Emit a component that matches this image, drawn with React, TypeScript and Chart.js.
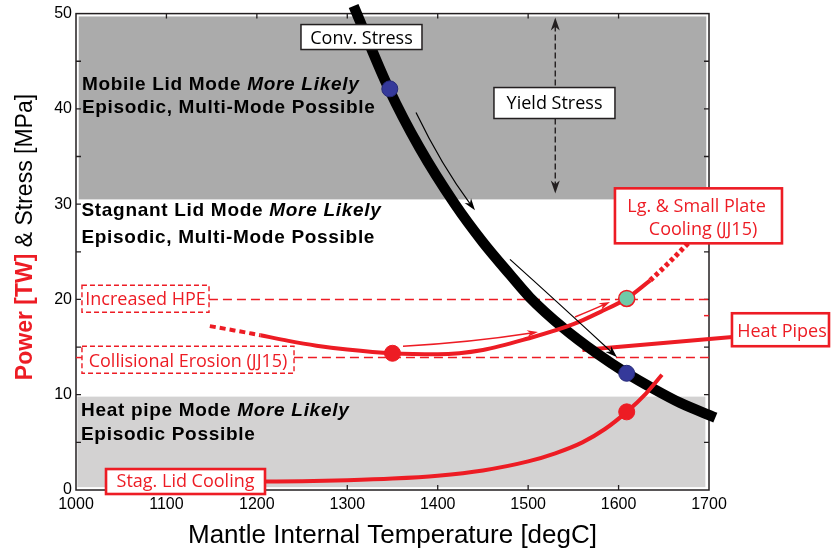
import React, { useEffect, useRef } from "react";
import { Chart, registerables } from "chart.js";

Chart.register(...registerables);

const RED = "#ed1c24";
const INK = "#231f20";

// Axis ranges / ticks
const xMin = 1000;
const xMax = 1700;
const yMin = 0;
const yMax = 50;
const xStep = 100;
const yStep = 10;
const yMinorStep = 5;

// Convective stress (black curve) [degC, MPa]
const convT = [1307, 1346, 1380, 1419, 1450, 1480, 1502, 1539, 1575, 1609, 1639, 1668, 1707];
const convMPa = [50.8, 42.1, 35.9, 30.0, 26.0, 22.6, 20.2, 17.0, 14.4, 12.25, 10.6, 9.15, 7.6];

// Stagnant lid cooling power [TW]
const stagT = [1209, 1250, 1300, 1350, 1400, 1450, 1500, 1530, 1560, 1585, 1609, 1630, 1648];
const stagTW = [0.88, 0.93, 1.03, 1.2, 1.5, 2.05, 3.0, 3.85, 5.0, 6.4, 8.2, 10.1, 12.1];

// Large & small plate cooling power [TW]
const plateDashT = [1148, 1175, 1204];
const plateDashTW = [17.2, 16.75, 16.25];
const plateT = [1204, 1235, 1266, 1300, 1350, 1400, 1450, 1500, 1550, 1580, 1609, 1635];
const plateTW = [16.25, 15.65, 15.15, 14.75, 14.35, 14.25, 14.7, 15.9, 17.4, 18.7, 20.1, 22.0];
const plateDotT = [1635, 1655, 1677];
const plateDotTW = [22.0, 23.8, 25.9];

// Heat pipes power [TW]
const heatPipeT = [1560, 1726];
const heatPipeTW = [14.7, 16.05];

// Reference levels
const hpeT = [1147, 1700];
const hpeTW = [20, 20];
const collLeftT = [1000, 1006.6];
const collRightT = [1241, 1702];
const collTW = [13.9, 13.9];

// Markers
const blueT = [1347, 1609];
const blueMPa = [42.1, 12.25];
const redDotT = [1350, 1609];
const redDotTW = [14.35, 8.2];
const greenT = [1609];
const greenTW = [20.1];

const pts = (xs: number[], ys: number[]) => xs.map((x, i) => ({ x, y: ys[i] }));

const SANS = '"Liberation Sans", Arial, Helvetica, sans-serif';
const LABEL = '"Open Sans", sans-serif';

function arrowHead(ctx: any, tx: number, ty: number, ang: number, len: number, hw: number, color: string) {
  ctx.save();
  ctx.translate(tx, ty);
  ctx.rotate(ang);
  ctx.beginPath();
  ctx.moveTo(0, 0);
  ctx.lineTo(-len, -hw);
  ctx.lineTo(-len * 0.7, 0);
  ctx.lineTo(-len, hw);
  ctx.closePath();
  ctx.fillStyle = color;
  ctx.fill();
  ctx.restore();
}

const annot = {
  id: "annot",
  beforeDatasetsDraw(chart: any) {
    const { ctx, chartArea: a } = chart;
    const X = (v: number) => chart.scales.x.getPixelForValue(v);
    const Y = (v: number) => chart.scales.y.getPixelForValue(v);
    ctx.save();
    // regime shading
    ctx.fillStyle = "#ababab";
    ctx.fillRect(X(1003), Y(49.7), X(1697) - X(1003), Y(30.5) - Y(49.7));
    ctx.fillStyle = "#d3d2d2";
    ctx.fillRect(X(1001.5), Y(9.8), X(1696) - X(1001.5), Y(0.3) - Y(9.8));

    // frame
    ctx.strokeStyle = INK;
    ctx.lineWidth = 1.5;
    ctx.strokeRect(a.left, a.top, a.right - a.left, a.bottom - a.top);
    ctx.lineWidth = 1.3;
    ctx.beginPath();
    for (let v = xMin + xStep; v < xMax; v += xStep) {
      ctx.moveTo(X(v), a.bottom);
      ctx.lineTo(X(v), a.bottom - 5);
      ctx.moveTo(X(v), a.top);
      ctx.lineTo(X(v), a.top + 5);
    }
    for (let v = yMin + yMinorStep; v < yMax; v += yMinorStep) {
      ctx.moveTo(a.left, Y(v));
      ctx.lineTo(a.left + 5, Y(v));
      ctx.moveTo(a.right, Y(v));
      ctx.lineTo(a.right - 5, Y(v));
    }
    ctx.stroke();
    ctx.strokeStyle = RED;
    ctx.lineWidth = 1.5;
    ctx.beginPath();
    ctx.moveTo(a.right - 5, Y(18.3));
    ctx.lineTo(a.right, Y(18.3));
    ctx.stroke();

    // regime texts
    const B = `bold 19px ${SANS}`;
    const BI = `italic bold 19px ${SANS}`;
    ctx.fillStyle = "#000";
    ctx.textAlign = "left";
    ctx.textBaseline = "alphabetic";
    (ctx as any).letterSpacing = "0.7px";
    const runs = (x: number, y: number, parts: [string, string][]) => {
      let cx = x;
      for (const [f, t] of parts) {
        ctx.font = f;
        ctx.fillText(t, cx, y);
        cx += ctx.measureText(t).width;
      }
    };
    runs(X(1006.5), Y(41.93), [[B, "Mobile Lid Mode "], [BI, "More Likely"]]);
    runs(X(1006.5), Y(39.57), [[B, "Episodic, Multi-Mode Possible"]]);
    runs(X(1006), Y(28.72), [[B, "Stagnant Lid Mode "], [BI, "More Likely"]]);
    runs(X(1006), Y(25.94), [[B, "Episodic, Multi-Mode Possible"]]);
    runs(X(1005.5), Y(7.81), [[B, "Heat pipe Mode "], [BI, "More Likely"]]);
    runs(X(1005.5), Y(5.24), [[B, "Episodic Possible"]]);
    (ctx as any).letterSpacing = "0px";
    ctx.restore();
  },
  afterDatasetsDraw(chart: any) {
    const { ctx } = chart;
    const X = (v: number) => chart.scales.x.getPixelForValue(v);
    const Y = (v: number) => chart.scales.y.getPixelForValue(v);
    ctx.save();

    // curved arrows
    const curved = (s: number[], c: number[], t: number[], color: string, lw: number, len: number, hw: number) => {
      const sx = X(s[0]), sy = Y(s[1]), cx = X(c[0]), cy = Y(c[1]), tx = X(t[0]), ty = Y(t[1]);
      const ang = Math.atan2(ty - cy, tx - cx);
      ctx.strokeStyle = color;
      ctx.lineWidth = lw;
      ctx.setLineDash([]);
      ctx.beginPath();
      ctx.moveTo(sx, sy);
      ctx.quadraticCurveTo(cx, cy, tx - Math.cos(ang) * len * 0.6, ty - Math.sin(ang) * len * 0.6);
      ctx.stroke();
      arrowHead(ctx, tx, ty, ang, len, hw, color);
    };
    curved([1376, 39.62], [1404, 34.1], [1441.2, 29.35], "#000", 1.2, 12, 4);
    curved([1479.9, 24.21], [1534, 19.6], [1598.3, 13.94], "#000", 1.2, 12, 4);
    curved([1361.6, 15.09], [1437, 15.5], [1510.9, 16.59], RED, 1.6, 11, 3.5);
    curved([1551.8, 18.16], [1571, 18.9], [1590.5, 19.74], RED, 1.6, 11, 3.5);

    // yield stress double arrow
    const yx = X(1530);
    ctx.strokeStyle = INK;
    ctx.lineWidth = 1.4;
    ctx.setLineDash([6, 3]);
    ctx.beginPath();
    ctx.moveTo(yx, Y(49.58) + 8);
    ctx.lineTo(yx, Y(42.24));
    ctx.moveTo(yx, Y(38.99));
    ctx.lineTo(yx, Y(31.13) - 8);
    ctx.stroke();
    ctx.setLineDash([]);
    arrowHead(ctx, yx, Y(49.58), -Math.PI / 2, 13, 4.5, INK);
    arrowHead(ctx, yx, Y(31.13), Math.PI / 2, 13, 4.5, INK);

    // boxes
    const box = (x0: number, y0: number, x1: number, y1: number, color: string, lw: number, dash: number[]) => {
      const px0 = X(x0), py0 = Y(y0), px1 = X(x1), py1 = Y(y1);
      ctx.fillStyle = "#fff";
      ctx.fillRect(px0, py0, px1 - px0, py1 - py0);
      ctx.strokeStyle = color;
      ctx.lineWidth = lw;
      ctx.setLineDash(dash);
      ctx.strokeRect(px0, py0, px1 - px0, py1 - py0);
      ctx.setLineDash([]);
    };
    const label = (txt: string, x: number, y: number, color: string) => {
      ctx.font = `18px ${LABEL}`;
      ctx.fillStyle = color;
      ctx.textAlign = "center";
      ctx.textBaseline = "alphabetic";
      ctx.fillText(txt, X(x), Y(y));
    };
    box(1248.8, 48.85, 1382.6, 46.23, INK, 1.5, []);
    label("Conv. Stress", 1315.7, 46.82, "#000");
    box(1462.2, 42.24, 1596.0, 38.99, INK, 1.5, []);
    label("Yield Stress", 1529.2, 39.94, "#000");
    box(1596.0, 31.66, 1780.7, 25.89, RED, 2.6, []);
    label("Lg. & Small Plate", 1686.2, 29.17, RED);
    label("Cooling (JJ15)", 1693.4, 26.73, RED);
    box(1725.4, 18.55, 1832.7, 15.09, RED, 2.6, []);
    label("Heat Pipes", 1780.7, 16.07, RED);
    box(1033.2, 2.2, 1209.0, -0.42, RED, 2.6, []);
    label("Stag. Lid Cooling", 1121.1, 0.31, RED);
    box(1006.6, 21.49, 1147.1, 18.66, RED, 1.4, [5, 3]);
    label("Increased HPE", 1076.9, 19.39, RED);
    box(1006.6, 15.09, 1241.1, 12.26, RED, 1.4, [5, 3]);
    label("Collisional Erosion (JJ15)", 1123.9, 12.89, RED);

    ctx.restore();
  },
  afterDraw(chart: any) {
    const { ctx, chartArea: a } = chart;
    ctx.save();
    // x title
    ctx.font = `26px ${SANS}`;
    ctx.fillStyle = "#000";
    ctx.textAlign = "center";
    ctx.textBaseline = "alphabetic";
    ctx.fillText("Mantle Internal Temperature [degC]", (a.left + a.right) / 2, a.bottom + 53);
    // y title
    ctx.translate(32, 237);
    ctx.rotate(-Math.PI / 2);
    ctx.textAlign = "left";
    const f1 = `bold 23px ${SANS}`;
    const f2 = `23px ${SANS}`;
    const t1 = "Power [TW]";
    const t2 = " & Stress [MPa]";
    ctx.font = f1;
    const w1 = ctx.measureText(t1).width;
    ctx.font = f2;
    const w2 = ctx.measureText(t2).width;
    const x0 = -(w1 + w2) / 2;
    ctx.font = f1;
    ctx.fillStyle = RED;
    ctx.fillText(t1, x0, 0);
    ctx.font = f2;
    ctx.fillStyle = "#000";
    ctx.fillText(t2, x0 + w1, 0);
    ctx.restore();
  },
};

export default function App() {
  const ref = useRef<HTMLCanvasElement>(null);
  useEffect(() => {
    const lineBase = { pointRadius: 0, fill: false, cubicInterpolationMode: "monotone" as const, borderCapStyle: "butt" as const };
    const chart = new Chart(ref.current!, {
      type: "line",
      data: {
        datasets: [
          { data: pts(blueT, blueMPa), showLine: false, pointRadius: 8, pointBackgroundColor: "#35399a", pointBorderColor: "#262a78", pointBorderWidth: 1 },
          { data: pts(redDotT, redDotTW), showLine: false, pointRadius: 8, pointBackgroundColor: RED, pointBorderColor: RED, pointBorderWidth: 1 },
          { data: pts(greenT, greenTW), showLine: false, pointRadius: 8, pointBackgroundColor: "#6fcaa8", pointBorderColor: RED, pointBorderWidth: 1.5 },
          { ...lineBase, data: pts(stagT, stagTW), borderColor: RED, borderWidth: 4 },
          { ...lineBase, data: pts(plateT, plateTW), borderColor: RED, borderWidth: 4 },
          { ...lineBase, data: pts(plateDashT, plateDashTW), borderColor: RED, borderWidth: 4, borderDash: [6, 4] },
          { ...lineBase, data: pts(plateDotT, plateDotTW), borderColor: RED, borderWidth: 5, borderDash: [4, 3] },
          { ...lineBase, data: pts(convT, convMPa), borderColor: "#000", borderWidth: 10.5, clip: false },
          { ...lineBase, data: pts(heatPipeT, heatPipeTW), borderColor: RED, borderWidth: 4, clip: false },
          { ...lineBase, data: pts(hpeT, hpeTW), borderColor: RED, borderWidth: 1.5, borderDash: [9, 5] },
          { ...lineBase, data: pts(collLeftT, collTW), borderColor: RED, borderWidth: 1.5, clip: false },
          { ...lineBase, data: pts(collRightT, collTW), borderColor: RED, borderWidth: 1.5, borderDash: [9, 5], clip: false },
        ],
      },
      options: {
        animation: false,
        responsive: true,
        maintainAspectRatio: false,
        events: [],
        layout: { padding: { top: 13, right: 122, bottom: 0, left: 0 } },
        plugins: { legend: { display: false }, tooltip: { enabled: false }, title: { display: false } },
        scales: {
          x: {
            type: "linear",
            min: xMin,
            max: xMax,
            grid: { display: false, drawTicks: false },
            border: { display: false },
            ticks: { stepSize: xStep, autoSkip: false, maxRotation: 0, padding: 5, color: "#000", font: { family: SANS, size: 16 }, callback: (v: any) => String(v) },
            afterFit: (s: any) => { s.height = 61; },
          },
          y: {
            type: "linear",
            min: yMin,
            max: yMax,
            grid: { display: false, drawTicks: false },
            border: { display: false },
            ticks: { stepSize: yStep, autoSkip: false, padding: 4, color: "#000", font: { family: SANS, size: 16 }, callback: (v: any) => String(v) },
            afterFit: (s: any) => { s.width = 76; },
          },
        },
      },
      plugins: [annot],
    });
    return () => chart.destroy();
  }, []);
  return (
    <div style={{ position: "fixed", left: 0, top: 0, width: 831, height: 551, background: "#fff" }}>
      <canvas ref={ref} />
    </div>
  );
}
